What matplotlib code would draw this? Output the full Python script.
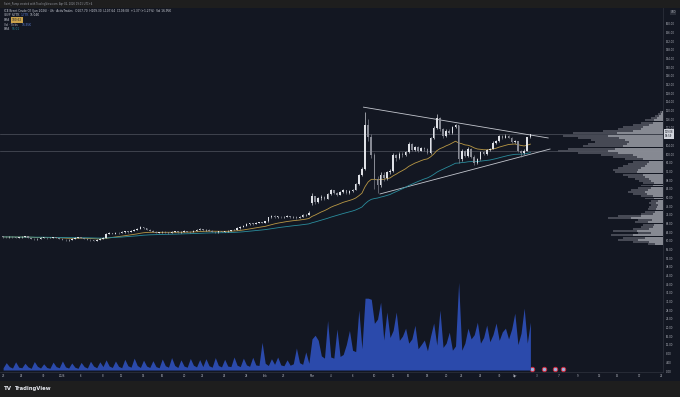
import matplotlib
matplotlib.use('Agg')
import matplotlib.pyplot as plt
from matplotlib.patches import Rectangle
import numpy as np
import pandas as pd

# 1. Dados (cada barra ~ 2 candles de 4h)
fechamentos = [
    61.8, 61.6, 61.9, 61.7, 61.5, 61.6, 61.9, 62.0, 61.4, 60.9, 60.7, 61.0, 61.3, 61.5, 61.2, 61.4,
    61.6, 61.3, 61.0, 60.6, 60.3, 60.5, 60.9, 61.3, 61.6, 61.4, 61.0, 60.6, 60.2, 60.0, 60.4, 60.9,
    61.5, 63.2, 63.6, 63.3, 63.7, 63.5, 64.0, 64.3, 64.1, 64.6, 65.2, 65.6, 66.2, 65.8, 65.2, 64.6,
    64.1, 63.7, 63.9, 64.2, 63.8, 63.6, 64.0, 64.3, 63.9, 64.1, 64.5, 64.2, 64.0, 64.6, 65.1, 65.3,
    64.9, 65.2, 64.7, 64.2, 64.0, 64.4, 64.1, 64.3, 64.6, 64.9, 65.2, 65.8, 66.4,
    67.0, 67.6, 68.0, 67.8, 68.2, 68.6, 68.4, 69.0, 70.8, 71.4, 71.0, 71.2, 70.8, 71.0, 71.3, 70.9,
    71.1, 70.6, 71.2, 71.8, 72.0, 72.9,
    80.5, 77.8, 79.6, 80.2, 79.4, 81.5, 83.2, 82.0, 81.3, 82.6, 83.4, 82.1, 82.8, 83.5, 86.0, 90.5, 93.2,
    113.5, 108.0, 99.5, 88.5, 85.5, 90.5, 88.8, 91.5, 92.0, 99.5, 98.0, 100.2, 99.6, 101.0, 104.8, 102.0,
    103.2, 101.5, 102.8, 102.2, 100.4, 107.5, 112.0, 116.5, 111.5, 108.5, 110.8, 109.8, 112.5, 113.2,
    97.5, 101.5, 99.0, 102.5, 98.8, 96.0, 97.5, 100.8, 100.0, 101.8, 102.5, 105.2, 106.0, 108.2,
    107.5, 108.4, 107.6, 105.4, 106.0, 101.5, 100.3, 101.5, 107.7, 109.08,
]
maximas = [
    62.1, 62.0, 62.2, 62.1, 61.9, 61.9, 62.3, 62.4, 62.1, 61.5, 61.1, 61.3, 61.6, 61.8, 61.6, 61.7,
    61.9, 61.7, 61.4, 61.1, 60.7, 60.8, 61.2, 61.6, 61.9, 61.8, 61.5, 61.1, 60.7, 60.4, 60.7, 61.2,
    61.8, 63.5, 63.9, 63.8, 64.0, 63.9, 64.3, 64.6, 64.5, 64.9, 65.5, 65.9, 66.6, 66.4, 66.0, 65.4,
    64.8, 64.3, 64.2, 64.5, 64.4, 64.0, 64.3, 64.6, 64.4, 64.4, 64.8, 64.7, 64.4, 64.9, 65.4, 65.7,
    65.5, 65.5, 65.4, 64.9, 64.4, 64.7, 64.6, 64.6, 64.9, 65.2, 65.5, 66.2, 66.8,
    67.4, 68.0, 68.4, 68.3, 68.5, 68.9, 68.9, 69.3, 71.2, 71.9, 71.7, 71.6, 71.4, 71.4, 71.7, 71.5,
    71.5, 71.3, 71.6, 72.2, 72.5, 73.6,
    82.2, 80.8, 80.2, 81.0, 80.6, 82.0, 84.0, 83.5, 82.4, 83.0, 84.0, 83.6, 83.2, 84.0, 86.8, 91.0, 94.0,
    119.4, 116.0, 109.0, 100.5, 90.0, 91.5, 91.8, 92.4, 93.0, 100.5, 100.2, 100.8, 101.0, 101.6, 105.4, 105.0,
    103.8, 103.6, 103.4, 103.3, 102.6, 108.0, 113.0, 118.4, 117.0, 112.0, 111.4, 111.5, 113.0, 114.0,
    113.6, 102.2, 102.0, 103.2, 102.8, 99.4, 98.2, 101.2, 101.2, 102.2, 103.0, 105.8, 106.6, 108.8,
    108.8, 109.0, 108.8, 107.8, 106.6, 106.2, 102.0, 102.2, 108.0, 109.3,
]
minimas = [
    61.5, 61.3, 61.4, 61.4, 61.2, 61.3, 61.5, 61.7, 61.2, 60.7, 60.4, 60.5, 60.9, 61.1, 61.0, 61.1,
    61.2, 61.1, 60.8, 60.4, 60.1, 60.1, 60.4, 60.7, 61.2, 61.2, 60.8, 60.4, 59.9, 59.7, 59.9, 60.3,
    60.8, 61.4, 63.0, 63.0, 63.2, 63.2, 63.4, 63.8, 63.8, 64.0, 64.5, 65.0, 65.4, 65.5, 65.0, 64.4,
    63.9, 63.5, 63.5, 63.7, 63.6, 63.3, 63.5, 63.9, 63.7, 63.7, 64.0, 64.0, 63.8, 63.9, 64.4, 64.9,
    64.6, 64.7, 64.5, 63.9, 63.7, 63.8, 63.9, 63.9, 64.2, 64.4, 64.8, 65.1, 65.6,
    66.2, 66.8, 67.4, 67.5, 67.6, 68.0, 68.1, 68.3, 68.8, 70.5, 70.6, 70.7, 70.4, 70.5, 70.8, 70.5,
    70.6, 70.2, 70.5, 71.0, 71.5, 71.8,
    76.5, 77.0, 77.5, 79.0, 78.8, 79.2, 81.2, 81.5, 80.8, 81.0, 82.2, 81.8, 81.7, 82.5, 83.2, 85.8, 89.8,
    92.6, 106.0, 98.0, 84.0, 82.0, 85.0, 87.6, 88.0, 90.8, 91.5, 97.0, 97.5, 98.8, 99.0, 100.6, 101.5,
    101.4, 101.0, 101.2, 101.6, 99.8, 100.2, 107.0, 111.6, 110.8, 107.5, 108.0, 109.0, 109.4, 112.0,
    96.0, 97.0, 98.4, 98.6, 98.2, 94.8, 95.6, 97.2, 99.4, 99.6, 101.4, 102.2, 104.8, 105.6,
    107.0, 107.2, 107.2, 105.0, 105.0, 101.0, 98.6, 99.8, 101.2, 107.6,
]
abertura_inicial = 61.9
gaps_abertura = {99: 77.6}  # gap de abertura no inicio de marco

# volume (Vol - Ticks), em milhares
volumes = [
    0.8, 2.6, 1.2, 0.7, 2.9, 1.0, 0.8, 2.4, 1.1, 0.6, 3.0, 1.3, 0.7, 2.2, 0.9, 0.6,
    2.8, 1.2, 0.8, 3.2, 1.1, 0.7, 2.5, 1.0, 0.6, 2.7, 1.2, 0.7, 3.1, 1.4, 0.8, 2.9,
    1.2, 3.6, 1.4, 0.9, 3.2, 1.3, 0.8, 3.8, 1.5, 1.0, 4.2, 1.6, 0.9, 3.5, 1.4, 0.9,
    3.3, 1.2, 0.8, 3.9, 1.5, 1.0, 4.4, 1.6, 0.9, 3.6, 1.4, 1.0, 4.1, 1.7, 1.1, 3.7,
    1.2, 4.0, 1.5, 1.0, 4.4, 1.6, 1.1, 3.8, 1.4, 1.2, 4.6, 1.7, 1.2, 4.2, 1.8, 1.3,
    4.5, 1.8, 1.6, 9.8, 2.4, 1.6, 4.0, 2.0, 4.6, 1.8, 1.5, 3.6, 1.7, 2.2, 7.8, 2.6,
    2.0, 6.4, 2.4, 11.0, 12.3, 10.5, 5.0, 4.2, 17.5, 4.6, 4.2, 14.5, 4.8, 5.5, 9.0, 14.0,
    7.0, 6.5, 21.2, 7.5, 25.4, 25.4, 25.0, 16.5, 18.0, 24.0, 10.6, 20.5, 11.5, 14.0, 20.5, 10.5,
    12.0, 14.8, 9.5, 11.0, 15.8, 7.5, 9.0, 10.6, 6.8, 12.0, 16.6, 8.8, 21.2, 8.0, 9.5, 13.4,
    7.0, 8.5, 31.0, 7.0, 9.5, 14.8, 11.0, 12.5, 16.9, 9.5, 11.5, 15.9, 10.0, 12.5, 16.6, 10.5,
    13.5, 14.8, 11.0, 14.5, 20.1, 9.0, 13.0, 21.9, 9.5, 16.95,
]

# perfil de volume (VRVP), faixas de 1 USD a partir de 58
vp_inicio = 58
vp_total = [15, 30, 45, 40, 52, 25, 50, 30, 22, 20, 28, 25, 55, 45, 22, 18,
            15, 14, 12, 14, 12, 18, 22, 30, 35, 32, 25, 22, 20, 24, 28, 35,
            40, 48, 50, 45, 40, 35, 30, 38, 50, 62, 85, 105, 95, 80, 75, 68,
            72, 85, 100, 90, 60, 45, 40, 30, 22, 18, 12, 8, 5, 3]
vp_compra = [8, 14, 25, 18, 30, 12, 26, 14, 10, 9, 15, 11, 32, 22, 10, 8,
             7, 6, 5, 7, 5, 9, 10, 16, 18, 15, 12, 10, 9, 12, 14, 18,
             20, 26, 25, 22, 18, 16, 14, 20, 26, 30, 45, 55, 48, 40, 36, 34,
             38, 44, 55, 46, 30, 22, 20, 14, 10, 9, 6, 4, 2, 1]

# linhas desenhadas pelo autor (indice da barra, preco)
linha_topo = ([115.5, 174.7], [121.6, 107.4])
linha_base = ([120.8, 175.3], [81.6, 102.3])
linhas_horizontais = [109.08, 101.4]

# eixo de datas
datas_pos = [0, 6, 13, 19, 25, 32, 38, 45, 51, 58, 64, 71, 78, 84, 90, 99, 105,
             112, 119, 125, 130, 136, 142, 147, 153, 159, 164, 171, 178, 184, 191, 197, 204, 211]
datas_rotulos = ['23', '26', '30', '2026', '6', '8', '12', '14', '16', '20', '22', '26', '28',
                 'Feb', '23', 'Mar', '4', '6', '10', '12', '16', '18', '20', '24', '26', '30',
                 'Apr', '3', '7', '9', '13', '15', '17', '21']
eventos_pos = [169.6, 173.2, 177.0, 179.4]
precos_ticks = [t for t in range(0, 164, 4) if t != 108]

# cores no estilo TradingView escuro
fundo = '#131722'
moldura = '#1e1e1e'
cor_texto = '#b2b5be'

W, H = 680, 397
fig = plt.figure(figsize=(6.8, 3.97), dpi=100)
fig.patch.set_facecolor(moldura)
fig.patches.append(Rectangle((0, 1 - 381 / H), 1, (381 - 8) / H, transform=fig.transFigure,
                             facecolor=fundo, edgecolor='none', zorder=-5))

ax = fig.add_axes([0, 1 - 372 / H, 663 / W, (372 - 8) / H])
ax.set_facecolor(fundo)
# volume em outro eixo (criado antes para nao mexer nos ticks da direita)
axv = ax.twinx()

x = np.arange(len(fechamentos))
c = np.array(fechamentos)
o = np.array([abertura_inicial] + fechamentos[:-1])
for i, v in gaps_abertura.items():
    o[i] = v
cores = np.where(c >= o, '#dfe1e7', '#878a94')

# 2. Linhas horizontais e de tendencia
for h in linhas_horizontais:
    ax.axhline(h, color='#50545f', lw=0.5, zorder=1)
ax.plot(*linha_topo, color='#c3c6ce', lw=0.6, zorder=2)
ax.plot(*linha_base, color='#c3c6ce', lw=0.6, zorder=2)

# 3. Medias exponenciais
serie = pd.Series(fechamentos)
ax.plot(x, serie.ewm(span=20, adjust=False).mean(), color='#b99845', lw=0.6, zorder=2)
ax.plot(x, serie.ewm(span=50, adjust=False).mean(), color='#2a8c9c', lw=0.6, zorder=2)

# 4. Candles
ax.vlines(x, minimas, maximas, colors=cores, lw=0.45, zorder=3)
ax.bar(x, np.maximum(np.abs(c - o), 0.25), bottom=np.minimum(o, c), width=0.52,
       color=cores, lw=0, zorder=4)

ax.set_xlim(-1, 211.5)
ax.set_ylim(-0.46, 167.3)

# eixos
ax.yaxis.tick_right()
ax.set_yticks(precos_ticks)
ax.set_yticklabels([f'{t:.2f}' for t in precos_ticks])
ax.set_xticks(datas_pos)
ax.set_xticklabels(datas_rotulos)
ax.tick_params(axis='y', length=0, pad=2, labelsize=1.9, labelcolor=cor_texto,
               left=False, labelleft=False, right=False, labelright=True)
ax.tick_params(axis='x', length=0, pad=1.6, labelsize=1.9, labelcolor=cor_texto)
for lado in ['top', 'left']:
    ax.spines[lado].set_visible(False)
for lado in ['right', 'bottom']:
    ax.spines[lado].set_color('#2a2e39')
    ax.spines[lado].set_linewidth(0.6)

# rotulo do preco atual e moeda
ax.text(1.003, 109.08, '109.08\n58:59', transform=ax.get_yaxis_transform(), fontsize=1.8,
        color=fundo, va='center', ha='left', linespacing=1.1, zorder=10,
        bbox=dict(boxstyle='square,pad=0.3', fc='#d1d4dc', ec='none'))
ax.text(1.011, 0.988, 'USD', transform=ax.transAxes, fontsize=1.8, color=cor_texto,
        va='center', ha='left', bbox=dict(boxstyle='square,pad=0.3', fc='#2a2e39', ec='none'))

# 5. Volume em area no rodape
axv.fill_between(np.arange(len(volumes)), volumes, 0, color='#2b4aab', lw=0)
axv.set_ylim(-0.7, 128)
axv.set_axis_off()

# eventos economicos
ax.scatter(eventos_pos, [0.9] * len(eventos_pos), s=10, facecolor='#9fb4dc',
           edgecolor='#d0283c', lw=0.7, zorder=6, clip_on=False)

# 6. Perfil de volume (VRVP) a direita
vp = ax.inset_axes([0, 0, 1, 1])
centros = np.arange(len(vp_total)) + vp_inicio + 0.5
vp.barh(centros, vp_total, height=0.9, color='#4c4f5a', alpha=0.9, lw=0)
vp.barh(centros, vp_compra, height=0.9, color='#9c9fa8', alpha=0.75, lw=0)
vp.set_xlim(663, 0)
vp.set_ylim(ax.get_ylim())
vp.set_axis_off()
vp.patch.set_visible(False)

# 7. Textos do cabecalho e legenda
def px(xp, yp):
    return xp / W, 1 - yp / H

fig.text(*px(4, 4), 'Saint_Pump created with TradingView.com, Apr 02, 2026 19:01 UTC+4',
         fontsize=1.8, color='#9598a1', va='center')
fig.text(*px(4, 11), 'ICE Brent Crude Oil (Jun 2026) · 4h · ActivTrades   O107.70  H109.30  '
         'L107.64  C109.08  +1.37 (+1.27%)  Vol 16.95K', fontsize=2.1, color='#d1d4dc', va='center')
fig.text(*px(4, 15.5), 'VRVP', fontsize=2.1, color=cor_texto, va='center')
fig.text(*px(12, 15.5), '6.77K', fontsize=2.1, color='#d1d4dc', va='center')
fig.text(*px(21, 15.5), '1.77K', fontsize=2.1, color='#5b7fd6', va='center')
fig.text(*px(30, 15.5), '15.04K', fontsize=2.1, color='#d1d4dc', va='center')
fig.text(*px(4, 20), 'EMA', fontsize=2.1, color=cor_texto, va='center')
fig.text(*px(12, 20), '100.62', fontsize=2.1, color=fundo, va='center',
         bbox=dict(boxstyle='square,pad=0.2', fc='#c9a24b', ec='none'))
fig.text(*px(4, 24.7), 'Vol · Ticks', fontsize=2.1, color=cor_texto, va='center')
fig.text(*px(22, 24.7), '16.95K', fontsize=2.1, color='#5b7fd6', va='center')
fig.text(*px(4, 29.3), 'EMA', fontsize=2.1, color=cor_texto, va='center')
fig.text(*px(12, 29.3), '96.01', fontsize=2.1, color='#2a8c9c', va='center')

# logo no rodape
fig.text(*px(4, 388.5), 'TV', fontsize=4, fontweight='bold', color='#e6e8ee', va='center')
fig.text(*px(14, 388.5), 'TradingView', fontsize=3.8, fontweight='bold', color='#e6e8ee', va='center')

fig.savefig('out.png', dpi=100, facecolor=fig.get_facecolor())
